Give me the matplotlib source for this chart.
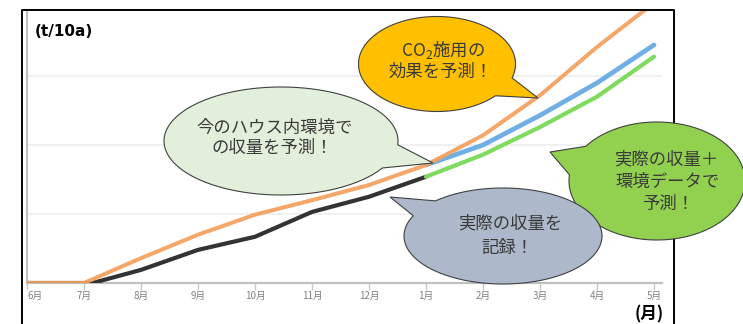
import numpy as np
import matplotlib
matplotlib.use("Agg")
from matplotlib import pyplot as plt
from matplotlib.patches import Polygon

plt.rcParams['font.family'] = ['Noto Sans CJK JP', 'DejaVu Sans']
plt.rcParams['mathtext.fontset'] = 'custom'
plt.rcParams['mathtext.rm'] = 'Noto Sans CJK JP'
plt.rcParams['mathtext.it'] = 'Noto Sans CJK JP'

# month axis
months = ['6月', '7月', '8月', '9月', '10月', '11月', '12月', '1月', '2月', '3月', '4月', '5月']
month_pos = list(range(len(months)))

# recorded yield (black)
actual_x = [0, 1, 1.15, 2, 3, 4, 5, 6, 7]
actual_y = [0, 0, 0, 0.19, 0.48, 0.67, 1.03, 1.25, 1.54]

# CO2 application forecast (orange)
co2_x = month_pos
co2_y = [0, 0, 0.36, 0.70, 0.99, 1.20, 1.42, 1.71, 2.14, 2.72, 3.42, 4.06]

# forecast from current greenhouse environment (blue)
env_x = [7, 8, 9, 10, 11]
env_y = [1.71, 2.00, 2.43, 2.90, 3.45]

# forecast from actual yield + environment data (green)
mix_x = [7, 8, 9, 10, 11]
mix_y = [1.54, 1.86, 2.26, 2.70, 3.28]

W, H = 743, 324
fig = plt.figure(figsize=(W / 100, H / 100), dpi=100)

# main chart area (pixel layout of the reference)
x0, x1, y_base, y_top = 27, 662, 283, 10
ax = fig.add_axes([x0 / W, (H - y_base) / H, (x1 - x0) / W, (y_base - y_top) / H])
ax.set_xlim(0, (x1 - x0) / 57)
ax.set_ylim(0, (y_base - y_top) / 69)

ax.plot(actual_x, actual_y, color='#333333', lw=3.0, solid_capstyle='round', zorder=3)
ax.plot(mix_x, mix_y, color='#7FDB5E', lw=3.0, solid_capstyle='round', zorder=3)
ax.plot(env_x, env_y, color='#6FAFE6', lw=3.4, solid_capstyle='round', zorder=3)
ax.plot(co2_x, co2_y, color='#F5A05C', lw=2.9, solid_capstyle='round', zorder=4, alpha=0.92)

ax.set_yticks([1, 2, 3])
ax.yaxis.grid(True, color='#EEEEEE', lw=1.2)
ax.tick_params(axis='y', length=0, labelleft=False)
ax.set_xticks(month_pos)
ax.set_xticklabels(months, fontsize=7, color='#808080')
ax.get_xticklabels()[0].set_ha('left')
ax.tick_params(axis='x', length=5, width=1, color='#C8C8C8', pad=1)
for s in ['top', 'right']:
    ax.spines[s].set_visible(False)
for s in ['left', 'bottom']:
    ax.spines[s].set_color('#C0C0C0')
    ax.spines[s].set_linewidth(1.6)
ax.set_axisbelow(True)

# overlay in pixel coordinates for frame, callouts and labels
ov = fig.add_axes([0, 0, 1, 1], zorder=5)
ov.set_xlim(0, W)
ov.set_ylim(H, 0)
ov.axis('off')
ov.patch.set_alpha(0)

ov.plot([22, 22, 674, 674], [H + 2, 10, 10, H + 2], color='black', lw=1.4, zorder=1)

ov.text(35, 32, '(t/10a)', fontsize=11, fontweight='bold', family='DejaVu Sans',
        ha='left', va='center', zorder=4)
ov.text(649, 314, '(月)', fontsize=12, fontweight='bold', ha='center', va='center', zorder=4)


def bubble(cx, cy, w, h, tip, t1, t2, fc):
    a, b = w / 2, h / 2
    ts = np.radians(np.linspace(t2, t1 + 360, 200))
    pts = np.column_stack([cx + a * np.cos(ts), cy + b * np.sin(ts)])
    pts = np.vstack([pts, tip])
    ov.add_patch(Polygon(pts, closed=True, fc=fc, ec='#404040', lw=0.8, zorder=2))


def label(lines, xs, ys):
    for s, x, y in zip(lines, xs, ys):
        ov.text(x, y, s, fontsize=12.5, color='#3A3A3A', ha='center', va='center', zorder=3)


bubble(437, 64, 157, 95, (538, 98), 17, 42, '#FFC000')
label(['CO$_2$施用の', '効果を予測！'], [443, 441], [50, 72])

bubble(281, 141, 234, 108, (433, 163), 4, 30, '#E2EFDA')
label(['今のハウス内環境で', 'の収量を予測！'], [275, 272], [128, 148])

bubble(657, 181, 176, 118, (550, 152), 186, 216, '#92D050')
label(['実際の収量＋', '環境データで', '予測！'], [666, 668, 668], [159, 182, 204])

bubble(503, 236, 198, 96, (390, 197), 205, 227, '#ADB9CA')
label(['実際の収量を', '記録！'], [510, 507], [223, 248])

fig.savefig('out.png', dpi=100)
